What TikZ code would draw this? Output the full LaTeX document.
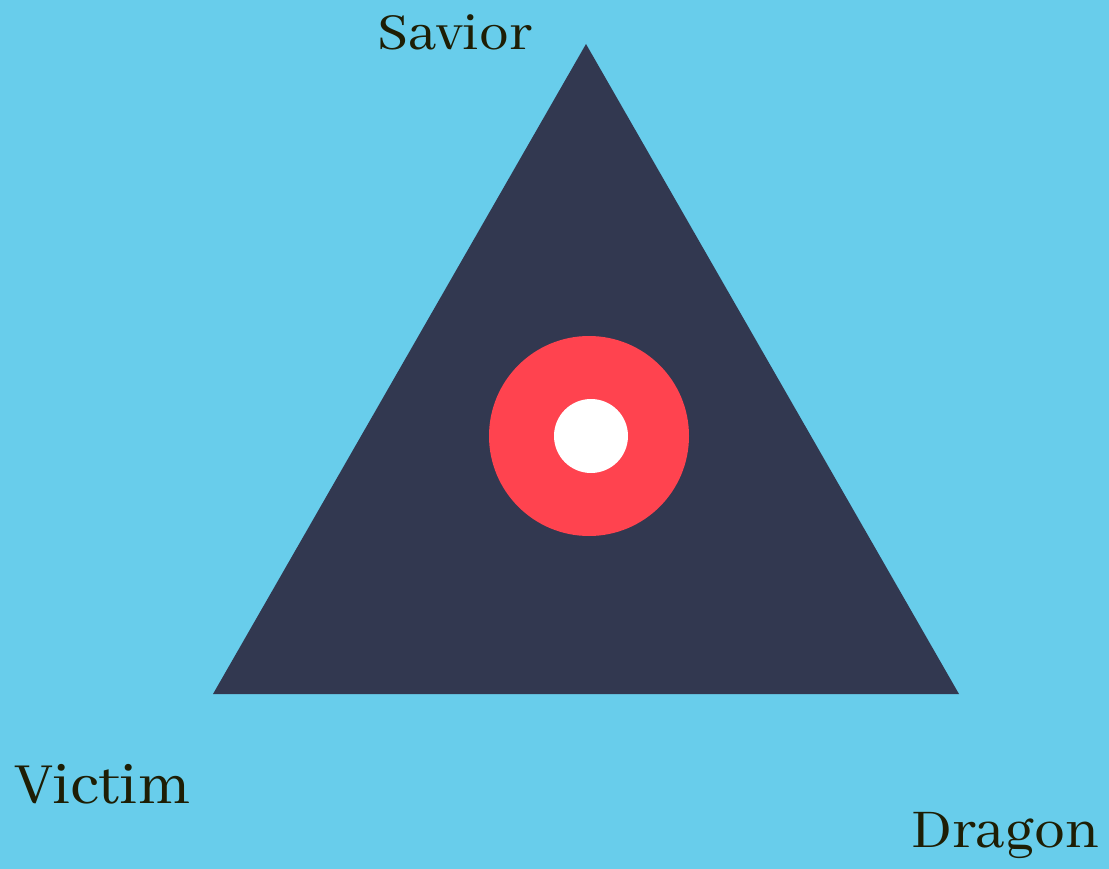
\documentclass[tikz,border=0pt]{standalone}
\usepackage{fontspec}
\setmainfont{Abhaya Libre}
\definecolor{bg}{HTML}{68CDEB}
\definecolor{tri}{HTML}{323850}
\definecolor{ring}{HTML}{FF434F}
\definecolor{ink}{HTML}{1E1E05}
\begin{document}
\begin{tikzpicture}[x=1pt,y=-1pt,
  lbl/.style={text=ink,inner sep=0pt,anchor=base west}]
\fill[bg] (0,0) rectangle (1109,869);
\useasboundingbox (0,0) rectangle (1109,869);
\coordinate (top) at (586,44);
\coordinate (bl) at (213,694);
\coordinate (br) at (959,694);
\fill[tri] (top) -- (bl) -- (br) -- cycle;
\fill[ring] (589,436) circle[radius=100];
\fill[white] (591,436) circle[radius=37];
\node[lbl,font=\fontsize{57}{68}\selectfont,xscale=1.04] (savior) at (377,50) {Savior};
\node[lbl,font=\fontsize{64}{76}\selectfont,xscale=1.03] (victim) at (15,803) {Victim};
\node[lbl,font=\fontsize{60}{72}\selectfont,xscale=1.03] (dragon) at (911,847) {Dragon};
\end{tikzpicture}
\end{document}
